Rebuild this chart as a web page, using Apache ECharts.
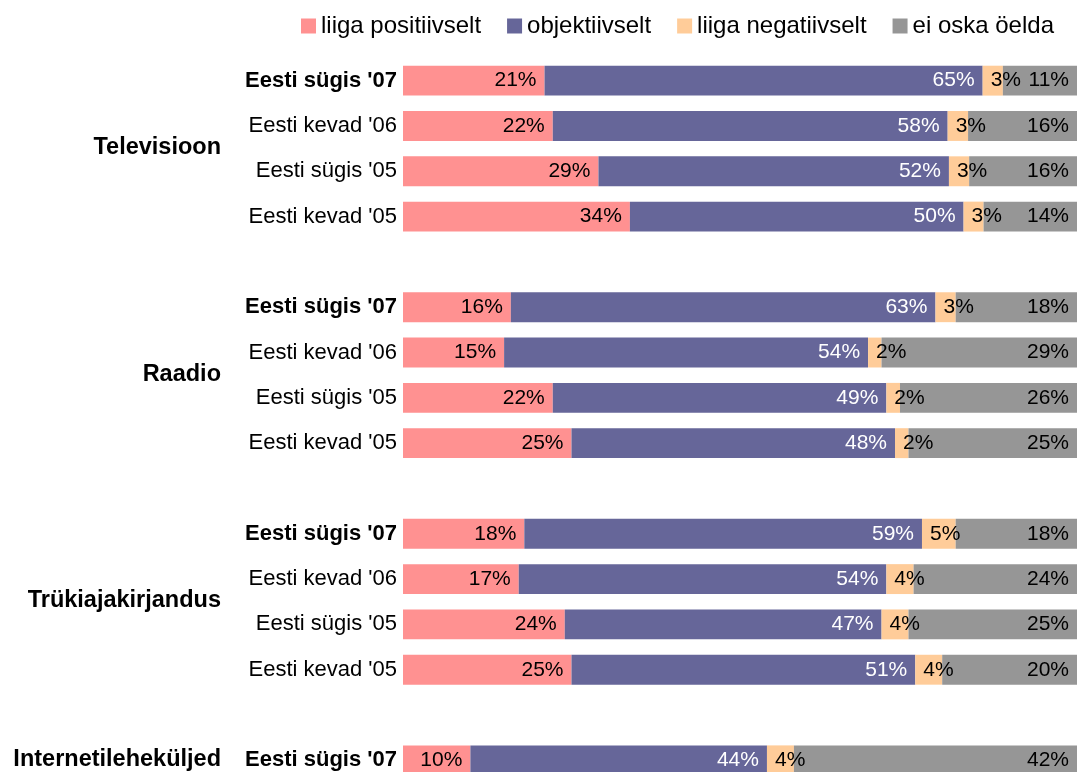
<!DOCTYPE html>
<html>
<head>
<meta charset="utf-8">
<script src="https://cdn.jsdelivr.net/npm/echarts@6/dist/echarts.min.js"></script>
<style>
  html, body { margin: 0; padding: 0; background: #fff; overflow: hidden; }
  #wrap { width: 1077px; height: 772px; overflow: hidden; }
  #chart { width: 1077px; height: 783px; }
</style>
</head>
<body>
<div id="wrap"><div id="chart"></div></div>
<script>
// media channels and survey waves (rows per group)
const groups = ['Televisioon', 'Raadio', 'Trükiajakirjandus', 'Internetileheküljed']
const groupRows = [4, 4, 4, 1]
const waves = ["Eesti sügis '07", "Eesti kevad '06", "Eesti sügis '05", "Eesti kevad '05"]

const seriesNames = ['liiga positiivselt', 'objektiivselt', 'liiga negatiivselt', 'ei oska öelda']
const colors = ['#FF9191', '#666699', '#FFCC99', '#969696']
const labelColors = ['#000', '#fff', '#000', '#000']

// values per row, top to bottom
const tooPositive = [21, 22, 29, 34, 16, 15, 22, 25, 18, 17, 24, 25, 10]
const objective   = [65, 58, 52, 50, 63, 54, 49, 48, 59, 54, 47, 51, 44]
const tooNegative = [3, 3, 3, 3, 3, 2, 2, 2, 5, 4, 4, 4, 4]
const dontKnow    = [11, 16, 16, 14, 18, 29, 26, 25, 18, 24, 25, 20, 42]

const FONT = "'Liberation Sans', Arial, sans-serif"
const raw = [tooPositive, objective, tooNegative, dontKnow]

// build category rows with an empty slot between groups
const categories = []
const rowIndex = [] // category index -> data row or -1
let r = 0
groups.forEach((g, gi) => {
  for (let i = 0; i < groupRows[gi]; i++) {
    categories.push(g + '|' + waves[i])
    rowIndex.push(r++)
  }
  if (gi < groups.length - 1) {
    categories.push('gap|' + gi)
    rowIndex.push(-1)
  }
})

const totals = tooPositive.map((v, i) => v + objective[i] + tooNegative[i] + dontKnow[i])

const series = raw.map((arr, si) => ({
  name: seriesNames[si],
  type: 'bar',
  stack: 'all',
  barCategoryGap: '34%',
  itemStyle: { color: colors[si] },
  label: {
    show: true,
    position: 'insideRight',
    distance: 8,
    color: labelColors[si],
    fontFamily: FONT,
    fontSize: 21,
    formatter: p => arr[rowIndex[p.dataIndex]] + '%',
  },
  data: rowIndex.map(ri => {
    if (ri < 0) return '-'
    const share = arr[ri] / totals[ri] * 100
    // narrow segments: label starts inside the segment and runs over the next one
    return share < 6
      ? { value: share, label: { position: 'insideLeft', distance: 8 } }
      : share
  }),
}))

const chart = echarts.init(document.getElementById('chart'))
chart.setOption({
  animation: false,
  textStyle: { fontFamily: FONT },
  legend: {
    top: 9,
    left: 296,
    icon: 'rect',
    itemWidth: 15,
    itemHeight: 15,
    itemGap: 26,
    textStyle: { fontFamily: FONT, fontSize: 24, color: '#000' },
    data: seriesNames,
  },
  grid: { left: 403, right: 0, top: 58, bottom: 0, containLabel: false },
  xAxis: { type: 'value', min: 0, max: 100, show: false },
  yAxis: {
    type: 'category',
    inverse: true,
    data: categories,
    axisLine: { show: false },
    axisTick: { show: false },
    axisLabel: {
      margin: 6,
      formatter: v => {
        const [g, w] = v.split('|')
        if (g === 'gap') return ''
        return w.indexOf("'07") >= 0 ? '{b|' + w + '}' : '{n|' + w + '}'
      },
      rich: {
        b: { fontFamily: FONT, fontSize: 22, fontWeight: 'bold', color: '#000' },
        n: { fontFamily: FONT, fontSize: 22, color: '#000' },
      },
    },
  },
  series,
})

// group titles centred on their rows
const groupLabels = []
let start = 0
groups.forEach((g, gi) => {
  const first = chart.convertToPixel({ yAxisIndex: 0 }, start)
  const last = chart.convertToPixel({ yAxisIndex: 0 }, start + groupRows[gi] - 1)
  groupLabels.push({
    type: 'text',
    x: 221,
    y: (first + last) / 2 - 1,
    style: {
      text: g,
      align: 'right',
      verticalAlign: 'middle',
      font: 'bold 23.5px ' + FONT,
      fill: '#000',
    },
  })
  start += groupRows[gi] + 1
})
chart.setOption({ graphic: groupLabels })
</script>
</body>
</html>
